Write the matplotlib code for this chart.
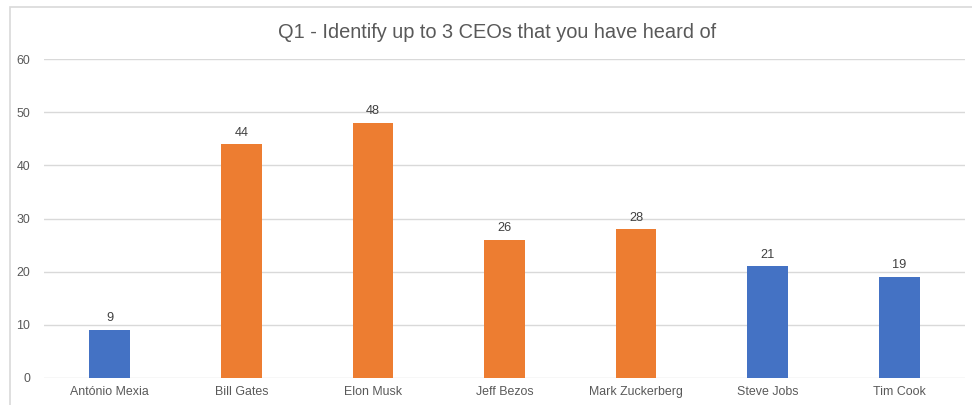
import matplotlib
matplotlib.use("Agg")
import matplotlib.pyplot as plt
from matplotlib.patches import Rectangle

# Survey results
categories = ["António Mexia", "Bill Gates", "Elon Musk", "Jeff Bezos",
              "Mark Zuckerberg", "Steve Jobs", "Tim Cook"]
counts = [9, 44, 48, 26, 28, 21, 19]
bar_colors = ["#4472C4", "#ED7D31", "#ED7D31", "#ED7D31",
              "#ED7D31", "#4472C4", "#4472C4"]
y_ticks = [0, 10, 20, 30, 40, 50, 60]
title = "Q1 - Identify up to 3 CEOs that you have heard of"

plt.rcParams["font.family"] = ["Liberation Sans", "DejaVu Sans"]
text_color = "#595959"
grid_color = "#D9D9D9"

W, H = 972, 405
fig = plt.figure(figsize=(W / 100, H / 100), dpi=100)
fig.patch.set_facecolor("white")

# Chart frame
frame = Rectangle((10 / W, -0.1), 1.2, 1 - 7 / H + 0.1, transform=fig.transFigure,
                  facecolor="none", edgecolor=grid_color, linewidth=1.2, clip_on=False)
fig.patches.append(frame)

left, right = 44 / W, 965 / W
bottom, top = (H - 377.7) / H, (H - 59.3) / H
ax = fig.add_axes([left, bottom, right - left, top - bottom])

x = range(len(categories))
bars = ax.bar(x, counts, width=0.31, color=bar_colors, zorder=3)

for xi, v in zip(x, counts):
    ax.annotate(str(v), (xi, v), xytext=(0, 4), textcoords="offset points",
                ha="center", va="bottom", fontsize=9.2, color="#404040")

ax.set_xlim(-0.5, len(categories) - 0.5)
ax.set_ylim(0, 60)
ax.set_yticks(y_ticks)
ax.set_xticks(list(x))
ax.set_xticklabels(categories)
ax.tick_params(axis="both", length=0, colors=text_color, labelsize=8.9)
ax.tick_params(axis="y", pad=10)
ax.tick_params(axis="x", pad=6)
ax.grid(axis="y", color=grid_color, linewidth=1, zorder=0)
for s in ax.spines.values():
    s.set_visible(False)

fig.text(497 / W, 1 - 32 / H, title, ha="center", va="center",
         fontsize=14.4, color=text_color)

fig.savefig("out.png", dpi=100)
